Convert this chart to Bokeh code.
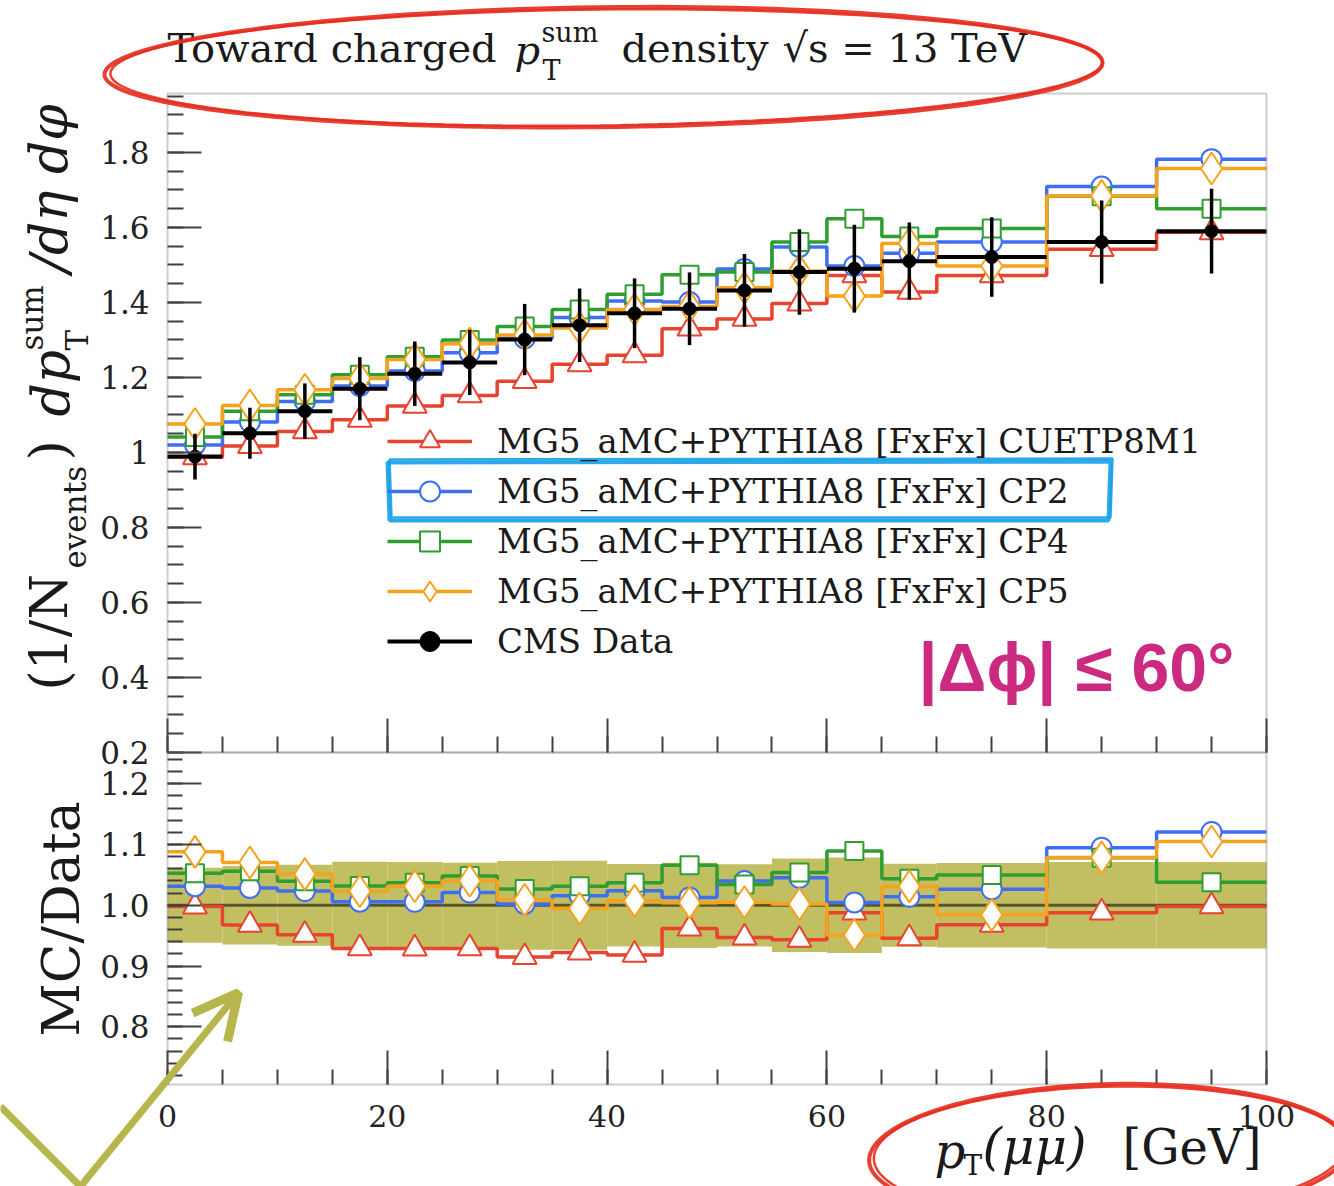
import numpy as np
from bokeh.embed import file_html
from bokeh.models import (Arrow, BoxAnnotation, CustomJSTickFormatter, FixedTicker, Label,
                          Legend, LegendItem, LinearAxis, OpenHead, PolyAnnotation, Range1d)
from bokeh.plotting import figure
from bokeh.resources import INLINE

# ------------------------------------------------------------------ data
# pT(mumu) binning [GeV]
bin_edges = [0, 5, 10, 15, 20, 25, 30, 35, 40, 45, 50, 55, 60, 65, 70, 80, 90, 100]

# toward-region charged pT-sum density
cms_data = [0.989, 1.051, 1.110, 1.170, 1.210, 1.240, 1.301, 1.339, 1.371,
            1.383, 1.432, 1.481, 1.490, 1.510, 1.521, 1.561, 1.590]
cms_err = [0.061, 0.068, 0.074, 0.084, 0.086, 0.087, 0.095, 0.098, 0.093,
           0.097, 0.097, 0.114, 0.117, 0.103, 0.106, 0.111, 0.113]

mc_cuetp8m1 = [0.987, 1.017, 1.056, 1.087, 1.124, 1.152, 1.190, 1.235, 1.259,
               1.330, 1.356, 1.397, 1.472, 1.428, 1.472, 1.542, 1.587]
mc_cp2 = [1.020, 1.081, 1.136, 1.177, 1.217, 1.266, 1.304, 1.360, 1.404,
          1.401, 1.489, 1.548, 1.497, 1.531, 1.561, 1.709, 1.782]
mc_cp4 = [1.041, 1.110, 1.154, 1.207, 1.255, 1.300, 1.336, 1.381, 1.422,
          1.474, 1.481, 1.561, 1.623, 1.576, 1.597, 1.683, 1.650]
mc_cp5 = [1.076, 1.125, 1.167, 1.197, 1.248, 1.290, 1.313, 1.332, 1.381,
          1.389, 1.439, 1.484, 1.417, 1.557, 1.497, 1.684, 1.757]

mc_names = ["MG5_aMC+PYTHIA8 [FxFx] CUETP8M1",
            "MG5_aMC+PYTHIA8 [FxFx] CP2",
            "MG5_aMC+PYTHIA8 [FxFx] CP4",
            "MG5_aMC+PYTHIA8 [FxFx] CP5"]
data_name = "CMS Data"

x_tick_values = [0, 20, 40, 60, 80, 100]
x_tick_labels = ["0", "20", "40", "60", "80", "100"]
top_y_tick_values = [0.2, 0.4, 0.6, 0.8, 1.0, 1.2, 1.4, 1.6, 1.8]
top_y_tick_labels = ["0.2", "0.4", "0.6", "0.8", "1", "1.2", "1.4", "1.6", "1.8"]
ratio_y_tick_values = [0.8, 0.9, 1.0, 1.1, 1.2]
ratio_y_tick_labels = ["0.8", "0.9", "1.0", "1.1", "1.2"]

# ------------------------------------------------------------------ style
mc_colors = ["#e8432f", "#3f6ff0", "#2f9e30", "#f6a21e"]
mc_markers = ["triangle", "circle", "square", "diamond"]
mc_marker_sizes = [24, 20, 18, 32]
band_color = "#c2bf62"
SERIF = "DejaVu Serif"
TICK_COLOR = "#404040"
FRAME_COLOR = "#5a5a5a"

# page geometry (pixels); both panels share one full-page canvas
W, H = 1334, 1186
FL, FR = 167, 1266           # panel left / right edge
TOP_T, MID, RAT_B = 93, 752, 1084   # upper panel top, panel boundary, ratio bottom
X_LIM = (0, 100)
TOP_Y = (0.2, 1.957)
RAT_Y = (0.705, 1.2515)

sx = (FR - FL) / (X_LIM[1] - X_LIM[0])
sy = (MID - TOP_T) / (TOP_Y[1] - TOP_Y[0])
sr = (RAT_B - MID) / (RAT_Y[1] - RAT_Y[0])

x_range = Range1d(X_LIM[0] - FL / sx, X_LIM[0] + (W - FL) / sx)
y_range = Range1d(TOP_Y[0] - (H - MID) / sy, TOP_Y[0] + MID / sy)
ratio_range = Range1d(RAT_Y[0] - (H - RAT_B) / sr, RAT_Y[0] + RAT_B / sr)


def at(px, py):
    """page pixel -> (x, upper-panel y) data coordinates"""
    return X_LIM[0] + (px - FL) / sx, TOP_Y[0] + (MID - py) / sy


def tick_formatter(values, labels):
    return CustomJSTickFormatter(args=dict(vals=values, labels=labels), code="""
        for (let i = 0; i < vals.length; i++) {
            if (Math.abs(vals[i] - tick) < 1e-6) return labels[i]
        }
        return ""
    """)


edges = np.array(bin_edges, dtype=float)
centers = 0.5 * (edges[:-1] + edges[1:])
data = np.array(cms_data)
err = np.array(cms_err)
mc_sets = [np.array(v) for v in (mc_cuetp8m1, mc_cp2, mc_cp4, mc_cp5)]

x_minor = list(np.arange(0, 101, 5))
top_minor = [round(v, 2) for v in np.arange(0.2, 1.96, 0.05)]
rat_minor = [round(v, 2) for v in np.arange(0.72, 1.25, 0.02)]

p = figure(width=W, height=H, title=None, output_backend="svg", toolbar_location=None,
           x_range=x_range, y_range=y_range, min_border=0,
           min_border_left=0, min_border_right=0, min_border_top=0, min_border_bottom=0)
p.extra_y_ranges = {"ratio": ratio_range}
p.grid.visible = False
p.outline_line_color = None
p.background_fill_color = "white"
p.border_fill_color = "white"


def style_axis(ax, tick_in, minor_in, label_size, standoff):
    ax.axis_line_color = None
    ax.major_tick_out = 0
    ax.minor_tick_out = 0
    ax.major_tick_in = tick_in
    ax.minor_tick_in = minor_in
    ax.major_tick_line_color = TICK_COLOR
    ax.minor_tick_line_color = TICK_COLOR
    ax.major_tick_line_width = 2
    ax.minor_tick_line_width = 2
    ax.major_label_text_font = SERIF
    ax.major_label_text_font_size = label_size
    ax.major_label_text_color = "#222222"
    ax.major_label_standoff = standoff
    ax.axis_label = None


# upper panel axes
top_x = p.xaxis[0]
top_x.fixed_location = TOP_Y[0]
top_x.ticker = FixedTicker(ticks=x_tick_values, minor_ticks=x_minor)
top_x.formatter = tick_formatter([], [])
style_axis(top_x, 34, 16, "30px", 0)

top_yax = p.yaxis[0]
top_yax.fixed_location = X_LIM[0]
top_yax.ticker = FixedTicker(ticks=top_y_tick_values, minor_ticks=top_minor)
top_yax.formatter = tick_formatter(top_y_tick_values, top_y_tick_labels)
style_axis(top_yax, 34, 16, "31px", 18)

# ratio panel axes
rat_x = LinearAxis(fixed_location=at(0, RAT_B)[1],
                   ticker=FixedTicker(ticks=x_tick_values, minor_ticks=x_minor),
                   formatter=tick_formatter(x_tick_values, x_tick_labels))
style_axis(rat_x, 34, 15, "30px", 20)
p.add_layout(rat_x, "below")

rat_yax = LinearAxis(y_range_name="ratio", fixed_location=X_LIM[0],
                     ticker=FixedTicker(ticks=ratio_y_tick_values, minor_ticks=rat_minor),
                     formatter=tick_formatter(ratio_y_tick_values, ratio_y_tick_labels))
style_axis(rat_yax, 34, 15, "31px", 18)
p.add_layout(rat_yax, "left")

# ------------------------------------------------------------------ ratio panel
rel = err / data
p.quad(left=edges[:-1], right=edges[1:], bottom=1 - rel, top=1 + rel,
       fill_color=band_color, line_color=None, y_range_name="ratio")
p.segment(x0=edges[0], y0=1.0, x1=edges[-1], y1=1.0, line_color="black",
          line_alpha=0.55, line_width=3, y_range_name="ratio")
for vals, col, mk, ms in zip(mc_sets, mc_colors, mc_markers, mc_marker_sizes):
    ratio = vals / data
    p.step(x=edges, y=np.append(ratio, ratio[-1]), mode="after",
           line_color=col, line_width=3.5, y_range_name="ratio")
    p.scatter(x=centers, y=ratio, marker=mk, size=ms, fill_color="white",
              line_color=col, line_width=2, y_range_name="ratio")

# ------------------------------------------------------------------ upper panel
legend_items = []
for vals, col, mk, ms, name in zip(mc_sets, mc_colors, mc_markers, mc_marker_sizes, mc_names):
    st = p.step(x=edges, y=np.append(vals, vals[-1]), mode="after",
                line_color=col, line_width=3.5)
    sc = p.scatter(x=centers, y=vals, marker=mk, size=ms, fill_color="white",
                   line_color=col, line_width=2)
    legend_items.append(LegendItem(label=name, renderers=[st, sc]))

d_h = p.segment(x0=edges[:-1], y0=data, x1=edges[1:], y1=data,
                line_color="black", line_width=4)
p.segment(x0=centers, y0=data - err, x1=centers, y1=data + err,
          line_color="black", line_width=3.5)
d_m = p.scatter(x=centers, y=data, marker="circle", size=13, fill_color="black",
                line_color="black")
legend_items.append(LegendItem(label=data_name, renderers=[d_h, d_m]))

legend = Legend(items=legend_items, location=(387, H - 666), glyph_width=85, glyph_height=50,
                label_height=50, spacing=0, padding=0, margin=0, label_standoff=25,
                label_text_font=SERIF, label_text_font_size="34px",
                label_text_color="#1a1a1a", border_line_alpha=0,
                background_fill_alpha=0)
p.add_layout(legend)

# panel frames
p.add_layout(BoxAnnotation(left=X_LIM[0], right=X_LIM[1], bottom=TOP_Y[0], top=TOP_Y[1],
                           fill_alpha=0, line_color=FRAME_COLOR, line_width=2))
p.add_layout(BoxAnnotation(left=X_LIM[0], right=X_LIM[1], bottom=RAT_Y[0], top=RAT_Y[1],
                           y_range_name="ratio", fill_alpha=0, line_color=FRAME_COLOR,
                           line_width=2))


def add_text(px, py, text, size, italic=False, angle=0.0, color="#1a1a1a",
             font=SERIF, bold=False):
    x, y = at(px, py)
    style = "bold" if bold else ("italic" if italic else "normal")
    p.add_layout(Label(x=x, y=y, text=text, text_font=font, text_font_size=f"{size}px",
                       text_font_style=style, text_color=color, angle=angle,
                       text_align="left", text_baseline="middle"))


# title
add_text(167, 47, "Toward charged", 40)
add_text(514, 49, "p", 40, italic=True)
add_text(541, 32, "sum", 27)
add_text(542, 70, "T", 27)
add_text(621, 47, "density", 40)
add_text(782, 47, "√s = 13 TeV", 40)

# y-axis title of the upper panel, rotated
rot = np.pi / 2
add_text(48, 690, "(1/N", 52, angle=rot)
add_text(74, 568, "events", 31, angle=rot)
add_text(48, 460, ")", 52, angle=rot)
add_text(50, 416, "dp", 52, italic=True, angle=rot)
add_text(76, 350, "T", 31, angle=rot)
add_text(31, 350, "sum", 31, angle=rot)
add_text(48, 272, "/dη dφ", 52, italic=True, angle=rot)

# y-axis title of the ratio panel
add_text(60, 1036, "MC/Data", 52, angle=rot)

# x-axis title
add_text(934, 1150, "p", 48, italic=True)
add_text(963, 1165, "T", 28)
add_text(982, 1146, "(μμ)", 50, italic=True)
add_text(1122, 1146, "[GeV]", 48)

# selection note
add_text(918, 666, "|Δϕ| ≤ 60°", 68, color="#cc2a80", font="Liberation Sans", bold=True)


def ellipse(cx, cy, a, b, tilt, wobble, phase, n=160):
    t = np.linspace(0, 2 * np.pi, n)
    rr = 1 + wobble * np.sin(3 * t + phase)
    ex = a * rr * np.cos(t)
    ey = b * rr * np.sin(t)
    xs = cx + ex * np.cos(tilt) - ey * np.sin(tilt)
    ys = cy + ex * np.sin(tilt) + ey * np.cos(tilt)
    pts = [at(u, v) for u, v in zip(xs, ys)]
    return [q[0] for q in pts], [q[1] for q in pts]


ring_red = "#e62a1d"
# ring round the title
for a, b, ph, lw in [(499, 60, 0.0, 4), (496, 58, 1.3, 2.5)]:
    xs, ys = ellipse(603, 67, a, b, -0.012, 0.006, ph)
    p.add_layout(PolyAnnotation(xs=xs, ys=ys, fill_alpha=0, line_color=ring_red,
                                line_width=lw, line_alpha=0.9))

# ring round the x-axis title
for a, b, ph, lw in [(240, 68, 0.4, 4), (236, 66, 2.0, 2.5)]:
    xs, ys = ellipse(1108, 1152, a, b, -0.03, 0.006, ph)
    p.add_layout(PolyAnnotation(xs=xs, ys=ys, fill_alpha=0, line_color=ring_red,
                                line_width=lw, line_alpha=0.9))

# box round the CP2 entry
for dx, dy, lw in [(0, 0, 4), (2, -3, 2.5)]:
    bx = [387 + dx, 1110 + dx, 1108 + dx, 389 + dx]
    by = [462 + dy, 461 + dy, 520 + dy, 520 + dy]
    pts = [at(u, v) for u, v in zip(bx, by)]
    p.add_layout(PolyAnnotation(xs=[q[0] for q in pts], ys=[q[1] for q in pts],
                                fill_alpha=0, line_color="#169fe6", line_width=lw,
                                line_alpha=0.9))

# pointer towards the band
olive = "#b7b64c"
s0, s1, s2 = at(0, 1106), at(80, 1186), at(238, 992)
p.add_layout(Arrow(x_start=s0[0], y_start=s0[1], x_end=s1[0], y_end=s1[1],
                   line_color=olive, line_width=7, end=None))
p.add_layout(Arrow(x_start=s1[0], y_start=s1[1], x_end=s2[0], y_end=s2[1],
                   line_color=olive, line_width=7,
                   end=OpenHead(size=45, line_color=olive, line_width=9)))

open("out.html", "w").write(file_html(p, INLINE))
